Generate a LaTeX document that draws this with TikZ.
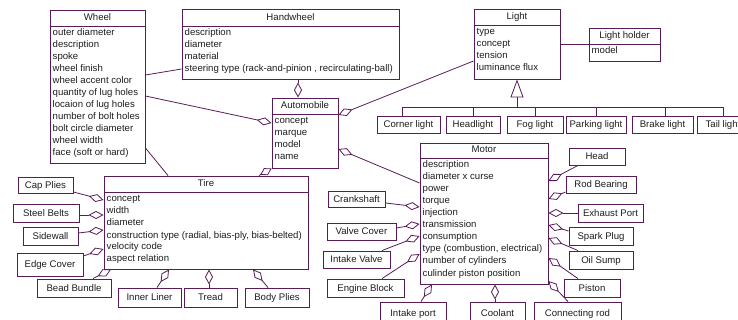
\documentclass[tikz,border=0pt]{standalone}
\usepackage{fontspec}
\setmainfont{Liberation Sans}
\usetikzlibrary{arrows.meta,fit}
\definecolor{lc}{RGB}{88,28,88}
\definecolor{tc}{RGB}{30,30,30}
\tikzset{
  box/.style={draw=lc, line width=0.9pt, fill=white, inner sep=0pt},
  txt/.style={text=tc, inner sep=0pt, font=\fontsize{9.6}{12}\selectfont},
  ln/.style={draw=lc, line width=0.8pt},
  agg/.style={ln, -{Diamond[open,length=15pt,width=8pt]}},
  aggs/.style={ln, -{Diamond[open,length=13pt,width=8pt]}},
  gen/.style={ln, -{Triangle[open,length=18pt,width=13pt]}}
}
\newcommand\umlclass[8]{%
  \coordinate (#1-nw) at (#2,#3);
  \coordinate (#1-se) at (#4,#5);
  \node[box, fit=(#1-nw)(#1-se)] (#1) {};
  \draw[ln] (#1.west |- 0,#6) -- (#1.east |- 0,#6);
  \node[txt, anchor=base] (#1-t) at ({(#2+#4)/2},{#6-5}) {#7};
  \node[txt, anchor=base west] (#1-a) at ({#2+2.5},{#6+10}) {\begin{tabular}[t]{@{}l@{}}#8\end{tabular}};
}
\newcommand\partbox[6]{%
  \coordinate (#1-nw) at (#2,#3);
  \coordinate (#1-se) at (#4,#5);
  \node[box, fit=(#1-nw)(#1-se)] (#1) {};
  \node[txt, anchor=base] (#1-t) at ([yshift=-3.3pt]#1.center) {#6};
}
\begin{document}
\begin{tikzpicture}[x=1pt,y=-1pt]
\useasboundingbox (0,0) rectangle (738,320);
\fill[white] (0,0) rectangle (738,320);

\coordinate (bus) at (517,107);

% classes
\umlclass{wheel}{50}{10}{145}{163}{26}{Wheel}{outer diameter\\description\\spoke\\wheel finish\\wheel accent color\\quantity of lug holes\\locaion of lug holes\\number of bolt holes\\bolt circle diameter\\wheel width\\face (soft or hard)}
\umlclass{hand}{182}{9}{399}{79}{26}{Handwheel}{description\\diameter\\material\\steering type (rack-and-pinion , recirculating-ball)}
\umlclass{light}{474}{9}{560}{79}{25}{Light}{type\\concept\\tension\\luminance flux}
\umlclass{holder}{589}{28}{660}{61}{44}{Light holder}{model}
\umlclass{auto}{272}{98}{338}{168}{114}{Automobile}{concept\\marque\\model\\name}
\umlclass{tire}{104}{176}{308}{269}{192}{Tire}{concept\\width\\diameter\\construction type (radial, bias-ply, bias-belted)\\velocity code\\aspect relation}
\umlclass{motor}{420}{143}{548}{284}{158}{Motor}{description\\diameter x curse\\power\\torque\\injection\\transmission\\consumption\\type (combustion, electrical)\\number of cylinders\\culinder piston position}

% light children
\partbox{corner}{377}{116}{440}{133}{Corner light}
\partbox{headl}{446}{116}{500}{133}{Headlight}
\partbox{fog}{507}{116}{563}{133}{Fog light}
\partbox{park}{566}{116}{626}{133}{Parking light}
\partbox{brake}{632}{116}{693}{133}{Brake light}
\partbox{tail}{697}{116}{749}{133}{Tail light}

% tire parts
\partbox{cap}{18}{177}{73}{193}{Cap Plies}
\partbox{steel}{13}{204}{79}{222}{Steel Belts}
\partbox{side}{23}{227}{78}{245}{Sidewall}
\partbox{edge}{17}{253}{83}{276}{Edge Cover}
\partbox{bead}{37}{279}{111}{297}{Bead Bundle}
\partbox{inner}{118}{288}{181}{307}{Inner Liner}
\partbox{tread}{184}{288}{237}{307}{Tread}
\partbox{body}{245}{288}{309}{307}{Body Plies}

% motor parts
\partbox{crank}{328}{191}{385}{207}{Crankshaft}
\partbox{valve}{327}{223}{396}{240}{Valve Cover}
\partbox{ivalve}{323}{251}{390}{268}{Intake Valve}
\partbox{eblock}{327}{279}{404}{297}{Engine Block}
\partbox{iport}{380}{302}{446}{324}{Intake port}
\partbox{cool}{470}{302}{525}{324}{Coolant}
\partbox{conn}{534}{302}{621}{324}{Connecting rod}
\partbox{head}{569}{148}{625}{165}{Head}
\partbox{rod}{566}{176}{636}{193}{Rod Bearing}
\partbox{exh}{578}{204}{643}{222}{Exhaust Port}
\partbox{spark}{569}{227}{633}{245}{Spark Plug}
\partbox{oil}{569}{251}{633}{269}{Oil Sump}
\partbox{piston}{564}{279}{620}{297}{Piston}

% automobile associations
\draw[agg] (298,0 |- hand.south) -- (298,0 |- auto.north);
\draw[agg] (wheel.east |- 0,96) -- (auto.west |- 0,123);
\draw[ln] (wheel.east |- 0,75) -- (hand.west |- 0,69);
\draw[ln] (wheel.east |- 0,148) -- (168,0 |- tire.north);
\draw[agg] (light.west |- 0,61) -- (auto.east |- 0,115);
\draw[ln] (light.east |- 0,44) -- (holder.west |- 0,44);
\draw[agg] (motor.west |- 0,183) -- (auto.east |- 0,149);
\draw[aggs] (259,0 |- tire.north) -- (auto.south west);

% generalization
\draw[gen] (bus) -- (bus |- light.south);
\draw[ln] ([xshift=-6.5pt]corner.north) |- (tail.north |- bus) -- (tail.north);
\foreach \n in {headl,fog,park} \draw[ln] (\n.north) -- (\n.north |- bus);
\draw[ln] ([xshift=2.5pt]brake.north) -- ([xshift=2.5pt]brake.north |- bus);

% tire parts
\draw[agg] (cap.east |- 0,192) -- (tire.west |- 0,200);
\draw[agg] (steel.east |- 0,215) -- (tire.west |- 0,215);
\draw[agg] (side.east |- 0,233) -- (tire.west |- 0,230);
\draw[agg] (edge.east |- 0,256) -- (tire.west |- 0,249);
\draw[agg] (93,0 |- bead.north) -- (111,0 |- tire.south);
\draw[agg] (157,0 |- inner.north) -- (169,0 |- tire.south);
\draw[agg] (209,0 |- tread.north) -- (209,0 |- tire.south);
\draw[agg] (268,0 |- body.north) -- (253,0 |- tire.south);

% motor parts left/bottom
\draw[agg] (crank.east |- 0,203) -- (motor.west |- 0,207);
\draw[agg] (valve.east |- 0,228) -- (motor.west |- 0,224);
\draw[agg] (382,0 |- ivalve.north) -- (motor.west |- 0,236);
\draw[agg] (382,0 |- eblock.north) -- (motor.west |- 0,254);
\draw[agg] (421,0 |- iport.north) -- (432,0 |- motor.south);
\draw[agg] (495,0 |- cool.north) -- (495,0 |- motor.south);
\draw[agg] (568,0 |- conn.north) -- (motor.east |- 0,281);

% motor parts right
\draw[agg] (578,0 |- head.south) -- (motor.east |- 0,181);
\draw[agg] (rod.west |- 0,192) -- (motor.east |- 0,199);
\draw[agg] (exh.west |- 0,213) -- (motor.east |- 0,213);
\draw[agg] (spark.west |- 0,231) -- (motor.east |- 0,225);
\draw[agg] (578,0 |- oil.north) -- (motor.east |- 0,238);
\draw[agg] (578,0 |- piston.north) -- (motor.east |- 0,258);
\end{tikzpicture}
\end{document}
